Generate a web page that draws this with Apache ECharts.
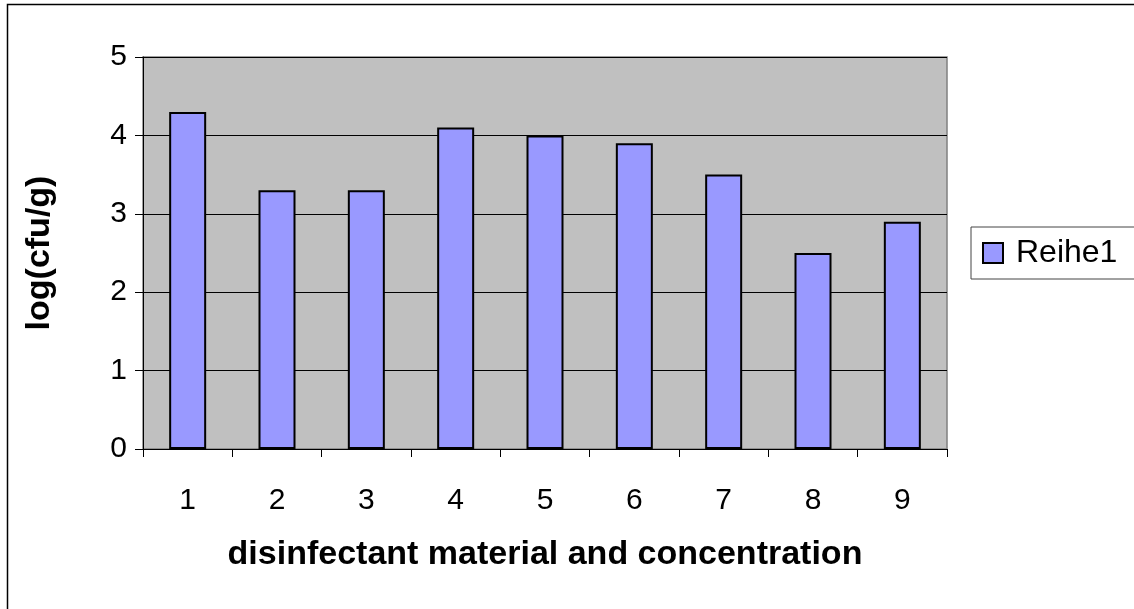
<!DOCTYPE html>
<html>
<head>
<meta charset="utf-8">
<script src="https://cdn.jsdelivr.net/npm/echarts@6/dist/echarts.min.js"></script>
<style>
html,body{margin:0;padding:0;background:#fff;}
#c{width:1134px;height:609px;}
</style>
</head>
<body>
<div id="c"></div>
<script>
const categories = ['1','2','3','4','5','6','7','8','9'];
const values = [4.3, 3.3, 3.3, 4.1, 4.0, 3.9, 3.5, 2.5, 2.9];
const seriesName = 'Reihe1';
const xTitle = 'disinfectant material and concentration';
const yTitle = 'log(cfu/g)';

const chart = echarts.init(document.getElementById('c'), null, {renderer:'canvas'});
const font = 'Liberation Sans, Arial, sans-serif';
chart.setOption({
  animation:false,
  textStyle:{fontFamily:font},
  graphic:[{type:'rect', shape:{x:7.5,y:4.5,width:1400,height:800}, style:{fill:'none',stroke:'#000',lineWidth:1.5}, z:-10}],
  grid:{left:143, top:57, right:187, bottom:160, show:true, backgroundColor:'#C0C0C0', borderColor:'#808080', borderWidth:1.5},
  legend:{
    data:[seriesName], left:971, top:227, orient:'vertical',
    padding:[10,40,10,11], itemWidth:20, itemHeight:20, itemGap:0,
    borderColor:'#444', borderWidth:1, icon:'rect',
    itemStyle:{borderColor:'#000', borderWidth:2},
    textStyle:{fontSize:32, color:'#000', fontFamily:font, padding:[0,0,0,8]}
  },
  xAxis:{
    type:'category', data:categories,
    axisLine:{lineStyle:{color:'#000', width:1}},
    axisTick:{show:true, length:8, alignWithLabel:false, lineStyle:{color:'#000'}},
    axisLabel:{fontSize:30, color:'#000', margin:37, fontFamily:font},
    name:xTitle, nameLocation:'middle', nameGap:89,
    nameTextStyle:{fontSize:34, fontWeight:'bold', color:'#000', fontFamily:font}
  },
  yAxis:{
    type:'value', min:0, max:5, interval:1,
    axisLine:{show:true, lineStyle:{color:'#000', width:1}},
    axisTick:{show:true, length:8, lineStyle:{color:'#000'}},
    splitLine:{show:true, lineStyle:{color:'#000', width:1}},
    axisLabel:{fontSize:30, color:'#000', margin:16, fontFamily:font},
    name:yTitle, nameLocation:'middle', nameGap:86, nameRotate:90,
    nameTextStyle:{fontSize:34, fontWeight:'bold', color:'#000', fontFamily:font}
  },
  series:[{
    name:seriesName, type:'bar', data:values, barWidth:37,
    itemStyle:{color:'#9999FF', borderColor:'#000', borderWidth:2}
  }]
});
</script>
</body>
</html>
